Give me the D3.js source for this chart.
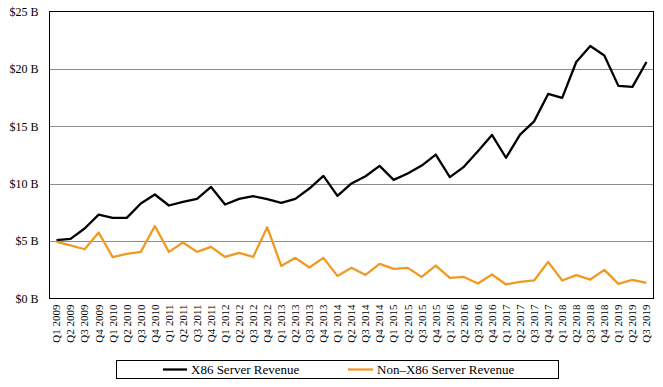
<!DOCTYPE html>
<html><head><meta charset="utf-8">
<script src="https://cdn.jsdelivr.net/npm/d3@7"></script>
<style>body{margin:0;background:#fff}svg{display:block}svg text{font-family:"Liberation Serif","Times New Roman",serif !important;fill:#000}</style>
</head><body>
<svg id="c" width="663" height="387"></svg>
<script>
const quarters = [];
const years = [2009,2010,2011,2012,2013,2014,2015,2016,2017,2018,2019];
years.forEach(y => ["Q1","Q2","Q3","Q4"].forEach(q => { if (!(y === 2019 && q === "Q4")) quarters.push(q + " " + y); }));
const x86 = [5.08,5.19,6.1,7.3,7.02,7.02,8.27,9.06,8.1,8.42,8.68,9.72,8.19,8.68,8.91,8.65,8.33,8.68,9.58,10.68,8.94,10.02,10.65,11.55,10.33,10.89,11.58,12.54,10.57,11.47,12.83,14.25,12.26,14.28,15.43,17.82,17.47,20.6,21.99,21.17,18.52,18.43,20.6];
const nonX86 = [4.93,4.62,4.29,5.75,3.6,3.89,4.06,6.32,4.06,4.88,4.06,4.5,3.62,3.97,3.62,6.21,2.84,3.54,2.7,3.54,1.97,2.67,2.05,3.02,2.58,2.67,1.88,2.87,1.8,1.88,1.31,2.09,1.22,1.45,1.57,3.19,1.57,2.03,1.65,2.49,1.27,1.62,1.36];
const yTicks = [0,5,10,15,20,25];
const seriesNames = ["X86 Server Revenue","Non\u2013X86 Server Revenue"];
const colors = ["#000000","#F09A24"];

const svg = d3.select("#c");
const L = 49.5, R = 653.5, T = 11.5, B = 298.5;
const x = d3.scaleBand().domain(quarters).range([L, R]);
const y = d3.scaleLinear().domain([0,25]).range([B, T]);
const FONT = '"Liberation Serif","Times New Roman",serif';

// gridlines
svg.append("g").selectAll("line").data(yTicks.filter(d => d > 0 && d < 25)).join("line")
  .attr("x1", L).attr("x2", R).attr("y1", d => Math.round(y(d)) + 0.5).attr("y2", d => Math.round(y(d)) + 0.5)
  .attr("stroke", "#8c8c8c").attr("stroke-width", 1);

// frame
svg.append("rect").attr("x", L).attr("y", T).attr("width", R - L).attr("height", B - T)
  .attr("fill", "none").attr("stroke", "#000").attr("stroke-width", 1);

// y axis labels
const yAxis = d3.axisLeft(y).tickValues(yTicks).tickSize(0).tickPadding(11).tickFormat(d => "$" + d + " B");
const gy = svg.append("g").attr("transform", `translate(${L},0)`).call(yAxis).attr("font-family", FONT).attr("font-size", 12);
gy.select(".domain").remove();
gy.selectAll("text").attr("fill", "#000");

// x axis labels
const xAxis = d3.axisBottom(x).tickSize(0).tickPadding(0);
const gx = svg.append("g").attr("transform", `translate(0,${B})`).call(xAxis).attr("font-family", FONT).attr("font-size", 11);
gx.select(".domain").remove();
gx.selectAll("text").attr("fill", "#000")
  .attr("transform", "rotate(-90)").attr("text-anchor", "end").attr("x", -6).attr("y", 0).attr("dy", "0.35em");

// lines
const line = d3.line().x((d, i) => x(quarters[i]) + x.bandwidth() / 2).y(d => y(d));
[x86, nonX86].forEach((s, k) => {
  svg.append("path").datum(s).attr("d", line).attr("fill", "none")
    .attr("stroke", colors[k]).attr("stroke-width", 2.3).attr("stroke-linejoin", "round");
});

// legend
const lg = svg.append("g").attr("font-family", FONT);
lg.append("rect").attr("x", 116.5).attr("y", 360.5).attr("width", 442).attr("height", 18)
  .attr("fill", "none").attr("stroke", "#000").attr("stroke-width", 1);
const items = [{x1: 163, x2: 187, tx: 191}, {x1: 348, x2: 373, tx: 377}];
items.forEach((it, k) => {
  lg.append("line").attr("x1", it.x1).attr("x2", it.x2).attr("y1", 369.5).attr("y2", 369.5)
    .attr("stroke", colors[k]).attr("stroke-width", 2.3);
  lg.append("text").attr("x", it.tx).attr("y", 369.5).attr("dy", "0.35em")
    .attr("font-size", 13).text(seriesNames[k]);
});
</script>
</body></html>
